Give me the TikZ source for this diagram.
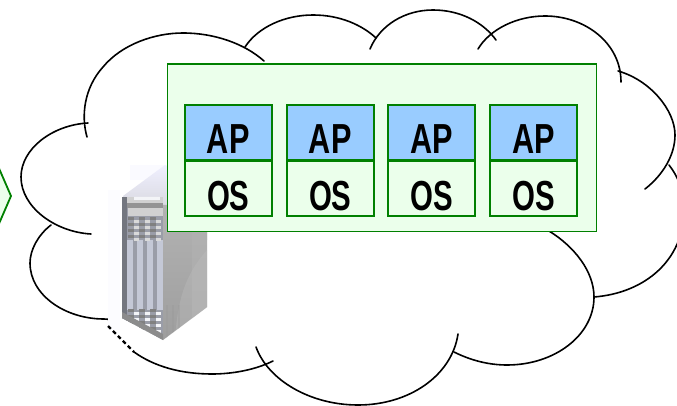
\documentclass[tikz,border=0pt]{standalone}
\usepackage{fontspec}
\setmainfont{Liberation Sans}
\definecolor{grn}{HTML}{008000}
\definecolor{pale}{HTML}{EBFFEB}
\definecolor{sky}{HTML}{99CCFF}
\definecolor{sa}{HTML}{74777F}
\definecolor{sb}{HTML}{C4C8D6}
\definecolor{sc}{HTML}{9A9DA8}
\begin{document}
\begin{tikzpicture}[x=1pt,y=-1pt,
  cloudline/.style={black,line width=1.6pt,line cap=round},
  stackbox/.style={draw=grn,line width=1.9pt,minimum width=87pt,minimum height=55pt,inner sep=0pt,anchor=north west,
     text=black,font=\fontsize{42}{42}\selectfont\bfseries},
  apbox/.style={stackbox,fill=sky},
  osbox/.style={stackbox,fill=pale},
  panel/.style={draw=grn,fill=pale,line width=1.9pt,minimum width=429pt,minimum height=167pt,inner sep=0pt,anchor=north west}]
\useasboundingbox (0,0) rectangle (677,406);
\fill[white] (0,0) rectangle (677,406);
% cloud lobes
\draw[cloudline] (87,137) .. controls (81,116) and (84,88) .. (103,67) .. controls (122,44) and (155,33) .. (183,33) .. controls (215,33) and (245,44) .. (264,61);
\draw[cloudline] (245,47) .. controls (258,27) and (285,15) .. (313,15) .. controls (340,15) and (362,25) .. (376,38);
\draw[cloudline] (370,49) .. controls (380,25) and (405,10) .. (433,10) .. controls (460,10) and (483,22) .. (496,40);
\draw[cloudline] (478,49) .. controls (490,29) and (517,16) .. (545,16) .. controls (585,16) and (621,43) .. (621,82);
\draw[cloudline] (618,71) .. controls (650,80) and (675,110) .. (675,135) .. controls (675,155) and (663,175) .. (645,189);
\draw[cloudline] (669,165) .. controls (677,175) and (684,190) .. (684,210) .. controls (684,260) and (645,293) .. (594,297);
\draw[cloudline] (549,231) .. controls (575,247) and (594,272) .. (594,297) .. controls (594,335) and (555,365) .. (507,365) .. controls (488,365) and (470,360) .. (454,352);
\draw[cloudline] (458,334) .. controls (452,375) and (410,405) .. (358,405) .. controls (310,405) and (268,380) .. (256,347);
\draw[cloudline] (273,361) .. controls (255,370) and (232,374) .. (212,374) .. controls (182,374) and (155,367) .. (134,352);
\draw[cloudline] (51,225) .. controls (38,235) and (30,250) .. (30,263) .. controls (30,295) and (65,319) .. (104,319) -- (118,320);
\draw[cloudline] (91,234) .. controls (55,232) and (21,207) .. (21,177) .. controls (21,149) and (52,125) .. (88,123);
% left chevron
\draw[draw=grn,fill=pale,line width=1.8pt] (-2,166) -- (11,196) -- (-2,226);
% server halo
\fill[white!99!blue] (108,190) rectangle (120,330);
\fill[white!98!blue] (130,165) rectangle (170,180);
% server top
\shade[top color=white!94!blue,bottom color=black!22] (123,196) -- (165,165) -- (207,190) -- (207,240) -- (123,240) -- cycle;
% side face
\begin{scope}
\clip (163,205) -- (207,205) -- (207,307) -- (163,340) -- cycle;
\shade[top color=black!30,middle color=sb!80,bottom color=black!38] (163,205) rectangle (207,340);
\fill[black!30,opacity=.6] (192,205) rectangle (207,340);
\fill[black!25,opacity=.35] (207,250) .. controls (190,270) and (178,290) .. (175,340) -- (207,340) -- cycle;
\foreach \px in {166,172,178}{\fill[black!40,opacity=.35] (\px,305) rectangle (\px+2,340);}
\end{scope}
% front face
\begin{scope}
\clip (122,197) -- (163,197) -- (163,340) -- (122,318) -- cycle;
\fill[sc] (122,197) rectangle (163,340);
\fill[black!18] (125,197) rectangle (163,203);
\fill[white!80!sb] (134,196) rectangle (160,200);
\fill[black!42] (122,203) rectangle (163,208);
\fill[black!18] (128,208) rectangle (163,216);
\foreach \sx/\sw/\sc in {122/5/sa,127/6/sb,133/4/sc,137/6/sb,143/4/sc,147/6/sb,153/4/sc,157/6/sb}{
  \fill[\sc] (\sx,240) rectangle (\sx+\sw,310);
}
\fill[sa] (122,197) rectangle (127,240);
\foreach \row in {0,1,2,3}{\foreach \col in {0,1,2}{
  \fill[black!50] ({128+\col*11},{217+\row*6}) rectangle ({134+\col*11},{220+\row*6});
  \fill[white!85!black] ({134+\col*11},{220+\row*6}) rectangle ({139+\col*11},{223+\row*6});
  \fill[black!50] ({128+\col*11},{309+\row*6}) rectangle ({134+\col*11},{312+\row*6});
  \fill[white!80!sb] ({134+\col*11},{312+\row*6}) rectangle ({139+\col*11},{315+\row*6});
}}
\fill[sa] (122,305) rectangle (127,330);
\fill[black!45] (122,318) -- (163,340) -- (163,334) -- (122,312) -- cycle;
\end{scope}
\draw[black,line width=2.2pt,dash pattern=on 4pt off 3pt] (108,326) -- (134,352);
% main panel
\node[panel] (host) at (166.5,63.5) {};
\foreach \n/\bx in {a/183.8,b/285.8,c/387.2,d/489}{
  \node[apbox] (ap\n) at (\bx,104.5) {\raisebox{-20.7pt}[0pt][0pt]{\scalebox{.73}[1]{AP}}};
  \node[osbox] (os\n) at (\bx,159.8) {\raisebox{-22pt}[0pt][0pt]{\scalebox{.7}[1]{OS}}};
}
\end{tikzpicture}
\end{document}
